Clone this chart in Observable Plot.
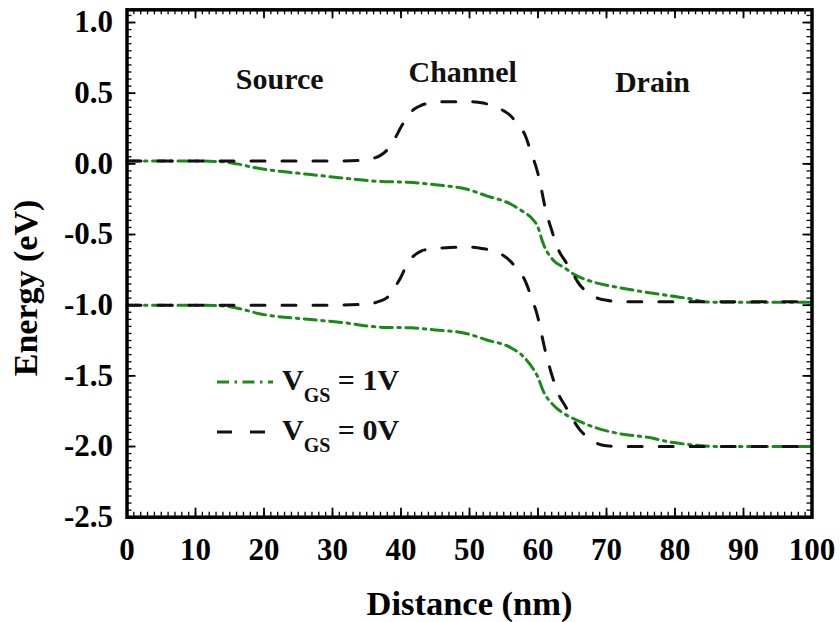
<!DOCTYPE html>
<html><head><meta charset="utf-8">
<script src="https://cdn.jsdelivr.net/npm/d3@7"></script>
<script src="https://cdn.jsdelivr.net/npm/@observablehq/plot@0.6"></script>
<style>
body{margin:0;background:#fff;}
#wrap{position:relative;width:840px;height:622px;}
#legend{position:absolute;left:0;top:0;pointer-events:none;}
#wrap svg, #wrap svg text{font-family:"Liberation Serif","DejaVu Serif",serif !important;}
</style></head><body><div id="wrap"></div>
<script>
// ---- data ----
const xTicks = [0, 10, 20, 30, 40, 50, 60, 70, 80, 90, 100];
const yTicks = [-2.5, -2.0, -1.5, -1.0, -0.5, 0.0, 0.5, 1.0];

// VGS = 0V (black dashed)
const x0 = [0, 10, 20, 30, 34, 36, 37, 38, 39, 40, 41, 42, 43, 44, 46, 48, 50, 52, 54, 55, 56, 57, 58, 59, 60, 60.5, 61, 62, 63, 64, 65, 66, 67, 68, 69, 70, 72, 75, 80, 85, 90, 95, 100];
const cb0 = [0.02, 0.02, 0.02, 0.02, 0.025, 0.04, 0.06, 0.1, 0.17, 0.26, 0.34, 0.39, 0.415, 0.43, 0.44, 0.44, 0.44, 0.43, 0.4, 0.375, 0.34, 0.28, 0.215, 0.08, -0.07, -0.18, -0.3, -0.47, -0.61, -0.69, -0.77, -0.85, -0.9, -0.935, -0.955, -0.965, -0.975, -0.975, -0.975, -0.975, -0.975, -0.975, -0.975];
const vb0 = [-1.0, -1.0, -1.0, -1.0, -0.995, -0.985, -0.97, -0.945, -0.88, -0.8, -0.7, -0.645, -0.615, -0.605, -0.595, -0.59, -0.59, -0.6, -0.625, -0.65, -0.69, -0.75, -0.815, -0.94, -1.09, -1.2, -1.31, -1.49, -1.63, -1.715, -1.8, -1.875, -1.925, -1.96, -1.985, -1.995, -2.0, -2.0, -2.0, -2.0, -2.0, -2.0, -2.0];

// VGS = 1V (green dash-dot)
const x1c = [0, 5, 10, 14, 16, 19, 23, 26.5, 30, 33.5, 37, 41, 45, 49.5, 52.5, 56, 58, 59, 60, 60.7, 62.3, 63.8, 65.2, 68, 72, 76, 79.5, 82.3, 84.2, 86, 90, 95, 100];
const cb1 = [0.02, 0.02, 0.02, 0.015, 0.0, -0.03, -0.056, -0.074, -0.093, -0.11, -0.125, -0.13, -0.148, -0.178, -0.226, -0.284, -0.344, -0.38, -0.45, -0.556, -0.685, -0.733, -0.78, -0.835, -0.877, -0.91, -0.935, -0.955, -0.975, -0.98, -0.98, -0.98, -0.98];
const x1v = [0, 5, 10, 14, 16, 19.5, 26, 31, 37.5, 41.5, 45, 49.5, 52.5, 56, 58, 59, 60, 60.7, 62.3, 63.8, 65.8, 68, 72, 76, 79.5, 83, 86, 90, 95, 100];
const vb1 = [-1.0, -1.0, -1.0, -1.005, -1.02, -1.062, -1.098, -1.12, -1.157, -1.16, -1.175, -1.2, -1.246, -1.3, -1.37, -1.43, -1.51, -1.6, -1.71, -1.767, -1.816, -1.86, -1.91, -1.935, -1.97, -1.99, -2.0, -2.0, -2.0, -2.0];

const regionLabels = ["Source", "Channel", "Drain"];
const regionX = [22.3, 49, 76.7];
const regionY = [0.6, 0.645, 0.575];

// ---- build tables ----
const rows0 = [
  ...x0.map((x, i) => ({x, e: cb0[i], band: "Ec"})),
  ...x0.map((x, i) => ({x, e: vb0[i], band: "Ev"}))
];
const rows1 = [
  ...x1c.map((x, i) => ({x, e: cb1[i], band: "Ec"})),
  ...x1v.map((x, i) => ({x, e: vb1[i], band: "Ev"}))
];

const W = 840, H = 622, mL = 126.5, mR = 28.5, mT = 9.3, mB = 105.3;
const plotW = W - mL - mR, plotH = H - mT - mB;
const xMinor = d3.range(0, 100.001, 1);
const yMinor = d3.range(-2.5, 1.0801, 0.05).map(v => +v.toFixed(2));
const green = "#1a8a1a";
const font = "Liberation Serif";

const chart = Plot.plot({
  width: W, height: H,
  marginLeft: mL, marginRight: mR, marginTop: mT, marginBottom: mB,
  x: {domain: [0, 100]},
  y: {domain: [-2.5, 1.09]},
  style: {fontFamily: font, fontWeight: "bold", background: "white", color: "black"},
  marks: [
    // inward ticks: bottom / top
    Plot.tickX(xMinor, {x: d => d, insetTop: plotH - 5, strokeWidth: 1.3}),
    Plot.tickX(xTicks, {x: d => d, insetTop: plotH - 9, strokeWidth: 1.8}),
    Plot.tickX(xMinor, {x: d => d, insetBottom: plotH - 5, strokeWidth: 1.3}),
    Plot.tickX(xTicks, {x: d => d, insetBottom: plotH - 9, strokeWidth: 1.8}),
    // inward ticks: left / right
    Plot.tickY(yMinor, {y: d => d, insetRight: plotW - 5, strokeWidth: 1.3}),
    Plot.tickY(yTicks, {y: d => d, insetRight: plotW - 9, strokeWidth: 1.8}),
    Plot.tickY(yMinor, {y: d => d, insetLeft: plotW - 5, strokeWidth: 1.3}),
    Plot.tickY(yTicks, {y: d => d, insetLeft: plotW - 9, strokeWidth: 1.8}),
    Plot.axisX(xTicks, {tickSize: 0, tickPadding: 21, fontSize: 31, fontWeight: "bold", fontFamily: font, label: null, tickFormat: d => String(d)}),
    Plot.axisY(yTicks, {tickSize: 0, tickPadding: 14, fontSize: 31, fontWeight: "bold", fontFamily: font, label: null, tickFormat: d => d.toFixed(1)}),
    // curves
    Plot.line(rows1, {x: "x", y: "e", z: "band", stroke: green, strokeWidth: 3, strokeDasharray: "12,5.5,2.5,5.5", curve: "monotone-x"}),
    Plot.line(rows0, {x: "x", y: "e", z: "band", stroke: "#111", strokeWidth: 3, strokeDasharray: "14,17", curve: "monotone-x"}),
    // region labels
    Plot.text(regionLabels, {x: (d, i) => regionX[i], y: (d, i) => regionY[i], text: d => d, fontSize: 30, fontWeight: "bold", fontFamily: font, fill: "#111"}),
    // axis titles
    Plot.text(["Distance (nm)"], {frameAnchor: "bottom", dy: 87, text: d => d, textAnchor: "middle", lineAnchor: "middle", fontSize: 34.5, fontWeight: "bold", fontFamily: font}),
    Plot.text(["Energy (eV)"], {frameAnchor: "left", dx: -101, dy: 24.5, rotate: -90, text: d => d, textAnchor: "middle", lineAnchor: "middle", fontSize: 34, fontWeight: "bold", fontFamily: font}),
    Plot.frame({stroke: "black", strokeWidth: 3.5})
  ]
});

const wrap = document.getElementById("wrap");
wrap.appendChild(chart);

// legend overlay
const ns = "http://www.w3.org/2000/svg";
const lg = document.createElementNS(ns, "svg");
lg.setAttribute("id", "legend");
lg.setAttribute("width", W);
lg.setAttribute("height", H);
lg.setAttribute("font-family", font);
lg.setAttribute("font-weight", "bold");
const legendItems = [
  {label: "1V", color: green, dash: "12,5.5,2.5,5.5", x2: 273, y: 382, base: 390},
  {label: "0V", color: "#111", dash: "15,18", x2: 265, y: 432, base: 440}
];
for (const it of legendItems) {
  const ln = document.createElementNS(ns, "line");
  ln.setAttribute("x1", 217); ln.setAttribute("x2", it.x2);
  ln.setAttribute("y1", it.y); ln.setAttribute("y2", it.y);
  ln.setAttribute("stroke", it.color); ln.setAttribute("stroke-width", 3);
  ln.setAttribute("stroke-dasharray", it.dash);
  lg.appendChild(ln);
  const t = document.createElementNS(ns, "text");
  t.setAttribute("x", 282); t.setAttribute("y", it.base);
  t.setAttribute("font-size", 30); t.setAttribute("fill", "#111");
  t.innerHTML = `V<tspan font-size="20" dy="12">GS</tspan><tspan font-size="30" dy="-12"> = ${it.label}</tspan>`;
  lg.appendChild(t);
}
wrap.appendChild(lg);
</script>
</body></html>
